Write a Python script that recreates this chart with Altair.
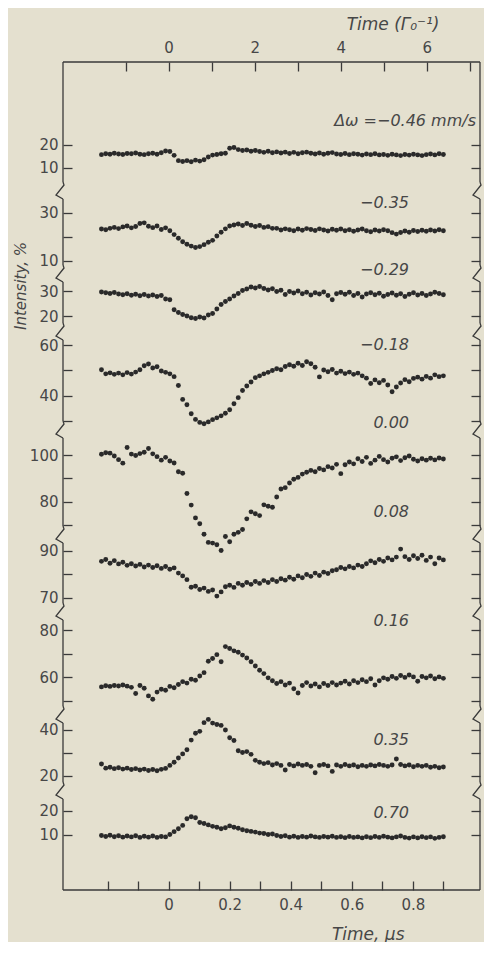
import altair as alt
import pandas as pd

# ---------------- data ----------------
T_START = -0.22   # first sample, microseconds
T_STEP = 0.014    # sample spacing, microseconds
N_PTS = 81
time_us = [round(T_START + T_STEP * i, 4) for i in range(N_PTS)]

detuning_labels = ["Δω =−0.46 mm/s", "−0.35", "−0.29", "−0.18", "0.00",
                   "0.08", "0.16", "0.35", "0.70"]

int_m046 = [15.8, 16.2, 16.0, 16.4, 16.1, 15.9, 16.3, 16.2, 16.5, 16.0,
            15.8, 16.2, 16.4, 16.0, 16.6, 17.4, 17.2, 15.5, 13.2, 12.8,
            13.2, 12.7, 13.4, 13.0, 13.6, 14.8, 15.6, 15.9, 16.2, 16.4,
            18.6, 18.9, 18.0, 17.6, 17.8, 17.3, 17.6, 17.2, 16.8, 17.3,
            16.6, 17.0, 16.5, 16.9, 16.3, 16.8, 16.2, 16.6, 16.9, 16.4,
            16.1, 16.5, 16.0, 16.4, 16.7, 16.1, 15.9, 16.3, 15.8, 16.2,
            16.0, 15.6, 16.1, 15.8, 16.2, 15.7, 15.9, 15.5, 16.0, 15.7,
            15.4, 15.9, 15.6, 16.0, 15.7, 15.4, 15.8, 16.1, 15.7, 16.2,
            15.9]
int_m035 = [23.3, 23.0, 23.6, 24.0, 23.5, 24.2, 24.6, 23.8, 24.4, 25.6,
            25.9, 24.5, 23.9, 24.6, 23.1, 23.8, 22.6, 21.0, 19.5, 18.0,
            17.0, 16.2, 15.6, 16.0, 16.8, 17.8, 18.6, 20.4, 22.0, 23.4,
            24.6, 25.0, 25.4, 24.8, 25.6, 24.9, 24.4, 24.8, 24.0, 24.3,
            23.6, 23.6, 22.9, 23.4, 23.0, 22.6, 23.3, 22.8, 23.5, 23.1,
            22.7, 23.4, 22.9, 22.5, 23.2, 22.8, 23.3, 22.6, 23.0, 22.4,
            22.9, 23.3, 22.6, 22.2, 22.9, 22.5, 23.0, 22.6, 21.8, 21.2,
            21.9, 22.5, 22.0, 22.7, 22.3, 22.8, 22.4, 22.9, 22.5, 23.0,
            22.6]
int_m029 = [29.6, 29.3, 29.0, 29.4, 28.8, 28.5, 28.9, 28.3, 28.7, 28.1,
            28.6, 28.0, 28.4, 27.8, 28.2, 26.8, 26.5, 22.5, 21.4, 20.6,
            20.0, 19.3, 19.0, 19.6, 19.2, 20.4, 21.0, 22.8, 24.6, 25.8,
            26.8, 28.0, 29.0, 30.2, 30.8, 31.6, 31.2, 31.8, 31.0, 30.4,
            30.9, 29.8, 30.3, 28.6, 29.8, 29.2, 30.0, 28.9, 29.5, 28.4,
            29.3, 28.8, 29.6, 28.2, 26.5, 28.9, 29.4, 28.7, 29.5, 28.2,
            29.0, 27.6, 28.8, 29.3, 28.5, 29.1, 27.9, 28.6, 29.2, 28.3,
            28.9, 27.8, 28.7, 29.3, 28.4, 29.0, 28.2, 28.8, 29.5, 29.0,
            28.5]
int_m018 = [50.2, 48.6, 49.0, 48.4, 48.9, 48.2, 49.1, 48.5, 49.3, 50.2,
            51.8, 52.5, 50.9, 51.4, 49.7, 49.2, 48.6, 47.5, 44.0, 38.5,
            36.4, 32.8, 30.6, 29.4, 28.9, 29.6, 30.5, 31.2, 32.0, 33.0,
            34.4, 36.8, 39.2, 42.0, 43.8, 45.4, 47.1, 47.8, 48.6, 49.2,
            49.9, 50.6, 50.2, 51.5, 52.2, 51.6, 52.8, 51.9, 53.4, 52.6,
            51.2, 47.4, 50.1, 49.4, 50.3, 48.9, 49.6, 48.7, 49.3, 48.4,
            48.9, 47.8, 46.9, 44.8, 46.2, 45.1, 46.0, 44.2, 41.5, 43.4,
            45.0, 46.3, 45.5, 46.8, 47.3, 46.5, 47.6, 46.9, 48.2, 47.5,
            47.8]
int_p000 = [100.3, 101.0, 100.8, 99.6, 98.0, 96.5, 103.2, 100.4, 99.8, 100.6,
            101.2, 102.8, 100.5, 99.3, 97.8, 99.0, 97.4, 96.6, 92.8, 92.2,
            83.5, 78.5, 73.0, 70.5, 66.0, 62.5, 62.2, 61.5, 59.0, 65.0,
            62.8, 66.0, 66.8, 68.0, 72.6, 75.6, 74.8, 74.0, 78.6, 78.0,
            77.6, 82.0, 85.4, 86.0, 88.0, 89.6, 90.4, 91.8, 92.6, 93.4,
            92.8, 94.2, 93.6, 95.0, 94.4, 96.0, 92.0, 95.8, 97.0, 96.2,
            98.4, 97.2, 99.0, 96.4, 97.8, 99.4, 98.0, 97.0, 98.6, 99.2,
            97.6, 98.8, 99.6, 98.2, 97.4, 98.4, 97.8, 98.6, 97.9, 98.7,
            98.3]
int_p008 = [85.6, 86.4, 84.8, 85.9, 84.5, 85.2, 83.9, 84.6, 83.6, 84.3,
            83.2, 84.0, 83.0, 83.7, 82.6, 83.4, 82.2, 82.8, 80.6, 79.4,
            77.8, 74.6, 75.0, 73.6, 74.2, 72.8, 73.4, 70.8, 72.6, 74.8,
            75.4, 74.5, 76.2, 75.4, 76.6, 75.8, 77.0, 76.2, 77.4, 76.6,
            77.8, 77.0, 78.2, 77.6, 78.8, 78.0, 79.4, 78.6, 80.0, 79.2,
            80.6, 79.6, 81.0, 80.4, 81.6, 82.0, 83.0, 82.4, 83.4, 82.8,
            84.0, 83.4, 84.6, 85.8, 85.0, 86.4, 85.6, 87.0, 86.2, 87.4,
            90.8, 87.6, 86.4, 88.0, 86.8, 88.2, 86.0, 87.4, 84.6, 87.0,
            86.2]
int_p016 = [56.0, 56.5, 56.2, 56.6, 56.4, 56.8, 56.3, 55.8, 53.2, 56.6,
            55.4, 52.2, 50.8, 53.8, 55.0, 54.6, 56.2, 55.6, 57.0, 58.2,
            57.6, 59.2, 58.8, 60.6, 62.0, 66.8, 68.0, 69.6, 66.6, 73.0,
            72.2, 71.2, 70.6, 69.4, 68.2, 66.6, 64.8, 63.0, 61.6, 59.8,
            58.6, 57.4, 58.2, 56.8, 57.6, 55.2, 53.4, 56.6, 57.8, 56.4,
            57.2, 56.0, 57.4, 56.6, 57.8, 56.8, 57.6, 58.4, 57.2, 58.6,
            57.8, 59.0, 58.2, 59.4, 56.8, 58.6, 59.8, 59.2, 60.4, 59.6,
            60.8, 60.0, 61.0, 60.2, 58.4, 60.4, 59.8, 60.6, 59.4, 60.2,
            59.6]
int_p035 = [25.2, 23.4, 23.8, 23.2, 23.6, 23.0, 23.4, 22.8, 23.2, 22.6,
            23.0, 22.4, 22.8, 22.3, 22.9, 23.3, 24.6, 26.0, 27.8, 29.6,
            31.4, 35.6, 38.6, 39.4, 43.2, 44.6, 43.0, 42.4, 42.0, 40.0,
            36.6, 35.4, 31.0, 30.2, 30.6, 29.4, 26.8, 26.0, 25.4, 25.8,
            24.8, 25.4, 24.6, 22.6, 25.0, 24.4, 25.2, 24.6, 25.0, 24.2,
            21.4, 24.6, 25.0, 24.4, 22.0, 24.8, 24.2, 25.0, 24.4, 24.8,
            24.0, 24.6, 24.2, 24.8, 24.4, 25.0, 24.6, 24.2, 24.8, 27.4,
            25.0, 24.4, 24.8, 24.0, 24.6, 24.2, 24.6, 23.8, 24.2, 23.6,
            23.9]
int_p070 = [9.8, 9.4, 9.9, 9.3, 9.7, 9.1, 9.6, 9.2, 9.7, 9.0,
            9.5, 9.1, 9.6, 9.0, 9.4, 9.2, 10.2, 11.4, 12.6, 14.0,
            16.8, 17.6, 17.2, 15.2, 14.8, 14.2, 13.6, 13.2, 12.6, 13.0,
            13.8, 13.2, 12.8, 12.2, 11.8, 11.5, 11.2, 10.8, 10.6, 10.2,
            10.4, 9.8, 9.4, 9.7, 9.1, 9.5, 9.0, 9.4, 9.1, 9.6,
            9.2, 9.0, 9.4, 9.1, 9.5, 9.0, 9.3, 8.9, 9.4, 9.0,
            9.2, 8.8, 9.3, 8.9, 9.4, 9.0, 9.5, 9.1, 8.8, 9.2,
            9.6, 9.0, 8.7, 9.2, 8.8, 9.3, 8.9, 9.2, 8.6, 9.0,
            9.3]

series = [int_m046, int_m035, int_m029, int_m018, int_p000,
          int_p008, int_p016, int_p035, int_p070]

# intensity ticks of each broken-axis segment, and which of them carry a label
tick_values = [[10, 20], [10, 20, 30], [20, 30], [30, 40, 50, 60],
               [70, 80, 90, 100], [70, 80, 90], [50, 60, 70, 80],
               [20, 30, 40], [10, 20]]
tick_labeled = [[10, 20], [10, 30], [20, 30], [40, 60], [80, 100],
                [70, 90], [60, 80], [20, 40], [10, 20]]

x_ticks_us = [-0.2, -0.1, 0.0, 0.1, 0.2, 0.3, 0.4, 0.5, 0.6, 0.7, 0.8, 0.9]
x_labels_us = [0, 0.2, 0.4, 0.6, 0.8]
x_ticks_gamma = [-1, 0, 1, 2, 3, 4, 5, 6, 7]
x_labels_gamma = [0, 2, 4, 6]
GAMMA0_INV_US = 0.141   # 1/Γ0 in microseconds

# ---------------- layout / style ----------------
W = 417
X_DOMAIN = [-0.346, 1.02]
y_domains = [(3.91, 56.09), (8.33, 35.83), (17.2, 33.6), (29.96, 61.98),
             (69.53, 107.3), (67.87, 93.4), (47.93, 84.22), (17.39, 43.04),
             (-12.92, 25.0)]
heights = [120, 66, 41, 81, 88, 60, 86, 59, 91]
GAP = 17
TICK = 9
label_x = [413, 346, 346, 346, 346, 346, 346, 346, 346]
label_y = [59, 4, -12, 5, -15, -31, 1, 17, 14]
BREAK_SHAPE = [(0, 0), (1, 3), (-7, 13), (0, 17)]

FONT = "DejaVu Sans"
BG = "#e4e0cf"
INK = "#2a2a2a"
LINE = "#3a3a3a"
TXT = "#474747"


def lbl_expr(vals):
    return "indexof([" + ",".join(str(v) for v in vals) + "], datum.value) >= 0 ? datum.label : ''"


def panel(k):
    H = heights[k]
    lo, hi = y_domains[k]
    first = k == 0
    last = k == len(series) - 1
    df = pd.DataFrame({"t": time_us, "v": series[k]})
    one = pd.DataFrame({"k": [0]})
    xs = alt.Scale(domain=X_DOMAIN, nice=False, zero=False)
    ys = alt.Scale(domain=[lo, hi], nice=False, zero=False)

    if last:
        xaxis = alt.Axis(orient="bottom", values=x_ticks_us, format=".1~f",
                         labelExpr=lbl_expr(x_labels_us), offset=-TICK,
                         tickSize=TICK, domain=False, grid=False,
                         labelPadding=7, labelOverlap=False, labelFlush=False,
                         title="Time, μs", titleX=341, titleY=44 + TICK,
                         titleAlign="right", titleBaseline="middle")
    else:
        xaxis = None

    left_axis = alt.Axis(orient="left", values=tick_values[k], format="d",
                         labelExpr=lbl_expr(tick_labeled[k]), offset=-TICK,
                         tickSize=TICK, domain=False, grid=False, title=None,
                         labelPadding=5, labelOverlap=False, labelFlush=False)
    right_axis = alt.Axis(orient="right", values=tick_values[k], labels=False,
                          offset=-TICK, tickSize=TICK, domain=False, grid=False,
                          title=None)

    pts = alt.Chart(df).mark_circle(size=24, color=INK, opacity=1).encode(
        x=alt.X("t:Q", scale=xs, axis=xaxis),
        y=alt.Y("v:Q", scale=ys, axis=left_axis))

    if first:
        gdf = pd.DataFrame({"g": [t / GAMMA0_INV_US for t in time_us], "v": series[k]})
        top_axis = alt.Axis(orient="top", values=x_ticks_gamma, format="d",
                            labelExpr=lbl_expr(x_labels_gamma), offset=-TICK,
                            tickSize=TICK, domain=False, grid=False,
                            labelPadding=7, labelOverlap=False, labelFlush=False,
                            title="Time (Γ₀⁻¹)", titleX=376, titleY=-38 - TICK,
                            titleAlign="right", titleBaseline="middle")
        carrier = alt.Chart(gdf).mark_circle(opacity=0).encode(
            x=alt.X("g:Q", axis=top_axis,
                    scale=alt.Scale(domain=[X_DOMAIN[0] / GAMMA0_INV_US,
                                            X_DOMAIN[1] / GAMMA0_INV_US],
                                    nice=False, zero=False)),
            y=alt.Y("v:Q", scale=ys, axis=right_axis))
    else:
        carrier = alt.Chart(df).mark_circle(opacity=0).encode(
            x=alt.X("t:Q", scale=xs, axis=None),
            y=alt.Y("v:Q", scale=ys, axis=right_axis))

    layers = [pts, carrier]

    rule = dict(color=LINE, strokeWidth=1.3)
    layers.append(alt.Chart(one).mark_rule(**rule).encode(
        x=alt.value(0), y=alt.value(0), y2=alt.value(H)))
    layers.append(alt.Chart(one).mark_rule(**rule).encode(
        x=alt.value(W), y=alt.value(0), y2=alt.value(H)))
    if first:
        layers.append(alt.Chart(one).mark_rule(**rule).encode(
            x=alt.value(0), x2=alt.value(W), y=alt.value(0)))
    if last:
        layers.append(alt.Chart(one).mark_rule(**rule).encode(
            x=alt.value(0), x2=alt.value(W), y=alt.value(H)))

    if not last:
        rows = []
        for side, base in (("L", 0), ("R", W)):
            for o, (dx, dy) in enumerate(BREAK_SHAPE):
                rows.append({"side": side, "o": o,
                             "bx": X_DOMAIN[0] + (base + dx) * (X_DOMAIN[1] - X_DOMAIN[0]) / W,
                             "by": lo - dy * (hi - lo) / H})
        layers.append(alt.Chart(pd.DataFrame(rows)).mark_line(
            color=LINE, strokeWidth=1.3).encode(
            x=alt.X("bx:Q", scale=xs, axis=None),
            y=alt.Y("by:Q", scale=ys, axis=None),
            detail="side:N", order="o:Q"))

    layers.append(alt.Chart(one).mark_text(
        align="right", baseline="middle", font=FONT, fontSize=16,
        fontStyle="italic", color=TXT).encode(
        x=alt.value(label_x[k]), y=alt.value(label_y[k]),
        text=alt.value(detuning_labels[k])))

    if k == 2:
        layers.append(alt.Chart(one).mark_text(
            align="center", baseline="middle", angle=270, font=FONT,
            fontSize=15, fontStyle="italic", color=TXT).encode(
            x=alt.value(-42), y=alt.value(4), text=alt.value("Intensity, %")))

    ch = alt.layer(*layers).resolve_axis(x="independent", y="independent")
    if first:
        ch = ch.resolve_scale(x="independent")
    return ch.properties(width=W, height=H)


chart = alt.vconcat(*[panel(k) for k in range(len(series))],
                    spacing=GAP, bounds="flush").properties(
    padding={"left": 5, "right": 0, "top": 7, "bottom": 0},
    background=BG,
).configure_view(stroke=None).configure_axis(
    labelFont=FONT, labelFontSize=15, labelColor=TXT,
    tickColor=LINE, tickWidth=1.3,
    titleFont=FONT, titleFontSize=17, titleFontStyle="italic",
    titleFontWeight="normal", titleColor=TXT,
)

chart.save("out.html", embed_options={"renderer": "svg", "actions": False})
